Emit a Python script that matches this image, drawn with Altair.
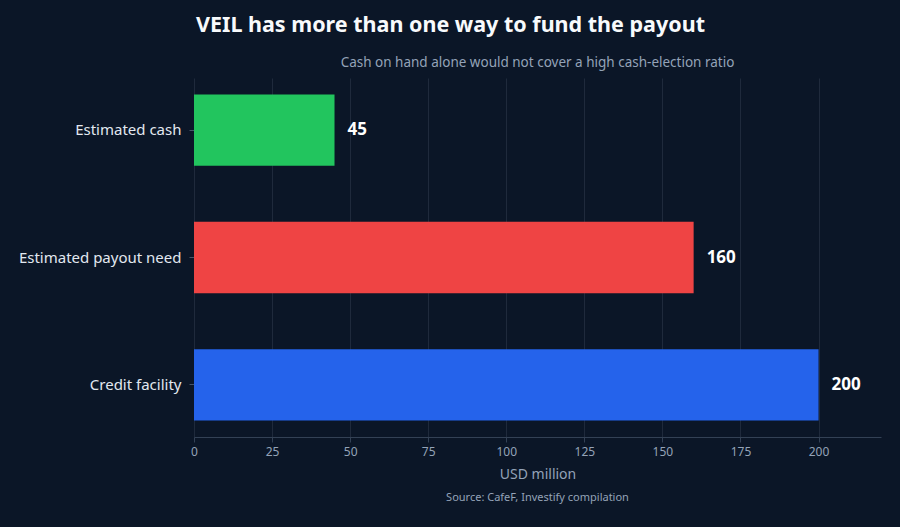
import altair as alt
import pandas as pd

categories = ["Estimated cash", "Estimated payout need", "Credit facility"]
values = [45, 160, 200]
colors = ["#22c55e", "#ef4444", "#2563eb"]
x_ticks = [0, 25, 50, 75, 100, 125, 150, 175, 200]

title_text = "VEIL has more than one way to fund the payout"
subtitle_text = "Cash on hand alone would not cover a high cash-election ratio"
source_text = "Source: CafeF, Investify compilation"

df = pd.DataFrame({"category": categories, "value": values, "color": colors})

W, H = 687, 359
FONT = "Noto Sans"

y_enc = alt.Y("category:N", sort=categories, title=None,
              scale=alt.Scale(paddingInner=0.44, paddingOuter=0.13),
              axis=alt.Axis(labelFontSize=15, labelColor="#e2e8f0", labelFont=FONT,
                            labelPadding=8, tickColor="#475569", tickSize=5,
                            domain=False, grid=False))
x_enc = alt.X("value:Q", title="USD million",
              scale=alt.Scale(domain=[0, 220], nice=False),
              axis=alt.Axis(values=x_ticks, labelFontSize=12, labelColor="#94a3b8",
                            labelFont=FONT, titleFont=FONT, titleFontSize=14,
                            titleColor="#94a3b8", titleFontWeight="normal",
                            titlePadding=10, gridColor="#1f2a3c", gridWidth=1,
                            domainColor="#334155", tickColor="#334155", tickSize=5,
                            labelPadding=4, labelFlush=False))

bars = alt.Chart(df).mark_bar().encode(
    x=x_enc, y=y_enc,
    color=alt.Color("color:N", scale=None, legend=None),
)
labels = alt.Chart(df).mark_text(align="left", baseline="middle", dx=13,
                                 fontSize=17, fontWeight="bold", color="#ffffff",
                                 font=FONT).encode(
    x="value:Q", y=alt.Y("category:N", sort=categories), text="value:Q")

title = alt.Chart(pd.DataFrame({"t": [title_text]})).mark_text(
    align="left", baseline="alphabetic", fontSize=21.5, fontWeight="bold",
    color="#f8fafc", font=FONT).encode(x=alt.value(2), y=alt.value(-46), text="t:N")
subtitle = alt.Chart(pd.DataFrame({"t": [subtitle_text]})).mark_text(
    align="center", baseline="alphabetic", fontSize=13.5, color="#94a3b8",
    font=FONT).encode(x=alt.value(W / 2), y=alt.value(-11), text="t:N")
source = alt.Chart(pd.DataFrame({"t": [source_text]})).mark_text(
    align="center", baseline="middle", fontSize=11, color="#94a3b8",
    font=FONT).encode(x=alt.value(W / 2), y=alt.value(H + 61), text="t:N")

chart = alt.layer(bars, labels, title, subtitle, source).properties(
    width=W, height=H,
    background="#0b1627",
    autosize=alt.AutoSizeParams(type="none"),
    padding={"left": 194, "top": 78, "right": 19, "bottom": 90},
).configure_view(stroke=None).configure_axis(labelFont=FONT, titleFont=FONT)

chart.save("out.html", embed_options={"renderer": "svg", "actions": False})
